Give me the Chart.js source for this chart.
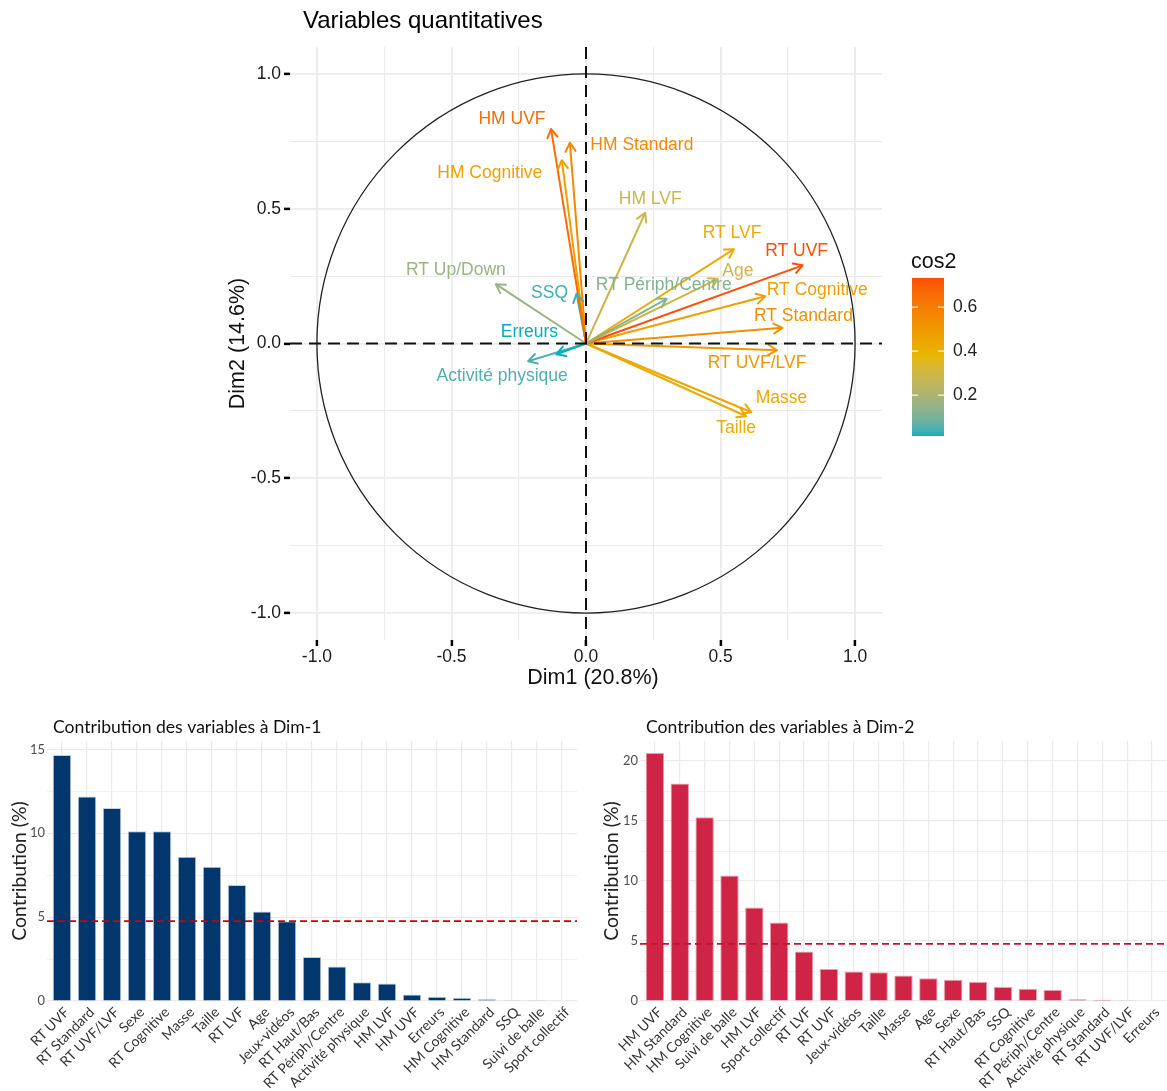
<!DOCTYPE html>
<html>
<head>
<meta charset="utf-8">
<script src="https://cdn.jsdelivr.net/npm/chart.js@4.4.0/dist/chart.umd.min.js"></script>
<style>
  html, body { margin: 0; padding: 0; background: #fff; }
  #wrap { position: relative; width: 1167px; height: 1091px; overflow: hidden; }
  .box { position: absolute; }
</style>
</head>
<body>
<div id="wrap">
  <div class="box" style="left:0;top:0;width:1167px;height:700px"><canvas id="pca"></canvas></div>
  <div class="box" style="left:0;top:705px;width:583px;height:386px"><canvas id="dim1"></canvas></div>
  <div class="box" style="left:583px;top:705px;width:584px;height:386px"><canvas id="dim2"></canvas></div>
</div>
<script>
// variables on the correlation circle (Dim1, Dim2 coordinates)
const pcaVars = ["HM UVF", "HM Standard", "HM Cognitive", "HM LVF", "RT Up/Down", "SSQ", "Erreurs",
  "Activité physique", "RT Périph/Centre", "Age", "RT LVF", "RT UVF", "RT Cognitive", "RT Standard",
  "RT UVF/LVF", "Masse", "Taille"];
const dim1Coord = [-0.13, -0.06, -0.09, 0.22, -0.335, -0.035, -0.11, -0.215, 0.30, 0.49, 0.55, 0.805, 0.666, 0.73, 0.71, 0.615, 0.595];
const dim2Coord = [0.796, 0.745, 0.68, 0.485, 0.22, 0.185, -0.04, -0.066, 0.166, 0.24, 0.35, 0.29, 0.175, 0.058, -0.025, -0.255, -0.27];

// contributions to Dim-1
const contrib1Labels = ["RT UVF", "RT Standard", "RT UVF/LVF", "Sexe", "RT Cognitive", "Masse", "Taille", "RT LVF",
  "Age", "Jeux-vidéos", "RT Haut/Bas", "RT Périph/Centre", "Activité physique", "HM LVF", "HM UVF", "Erreurs",
  "HM Cognitive", "HM Standard", "SSQ", "Suivi de balle", "Sport collectif"];
const contrib1Values = [14.67, 12.19, 11.5, 10.12, 10.12, 8.6, 8.01, 6.91, 5.33, 4.76, 2.62, 2.05, 1.12, 1.04,
  0.39, 0.26, 0.2, 0.1, 0.04, 0.04, 0.01];

// contributions to Dim-2
const contrib2Labels = ["HM UVF", "HM Standard", "HM Cognitive", "Suivi de balle", "HM LVF", "Sport collectif",
  "RT LVF", "RT UVF", "Jeux-vidéos", "Taille", "Masse", "Age", "Sexe", "RT Haut/Bas", "SSQ", "RT Cognitive",
  "RT Périph/Centre", "Activité physique", "RT Standard", "RT UVF/LVF", "Erreurs"];
const contrib2Values = [20.67, 18.13, 15.32, 10.45, 7.8, 6.55, 4.12, 2.67, 2.45, 2.4, 2.12, 1.89, 1.78, 1.59,
  1.17, 1.03, 0.92, 0.14, 0.11, 0.06, 0.05];

const expectedContrib = 4.76; // 100 / 21 variables

const SANS = '"Liberation Sans", Arial, sans-serif';
const LATO = 'Lato, "Open Sans", sans-serif';

// cos2 colour gradient (interpolated in Lab like ggplot)
const GRAD_COLS = ["#00AFBB", "#E7B800", "#FC4E07"];
function hexToRgb(h) { return [1, 3, 5].map(i => parseInt(h.substr(i, 2), 16)); }
function toLab(rgb) {
  const [r, g, b] = rgb.map(c => { c /= 255; return c <= 0.04045 ? c / 12.92 : Math.pow((c + 0.055) / 1.055, 2.4); });
  const X = (0.4124564 * r + 0.3575761 * g + 0.1804375 * b) / 0.95047;
  const Y = 0.2126729 * r + 0.7151522 * g + 0.0721750 * b;
  const Z = (0.0193339 * r + 0.1191920 * g + 0.9503041 * b) / 1.08883;
  const f = t => t > 0.008856 ? Math.cbrt(t) : 7.787 * t + 16 / 116;
  const fx = f(X), fy = f(Y), fz = f(Z);
  return [116 * fy - 16, 500 * (fx - fy), 200 * (fy - fz)];
}
function fromLab([L, a, b]) {
  const fy = (L + 16) / 116, fx = fy + a / 500, fz = fy - b / 200;
  const inv = t => { const t3 = t * t * t; return t3 > 0.008856 ? t3 : (t - 16 / 116) / 7.787; };
  const X = inv(fx) * 0.95047, Y = inv(fy), Z = inv(fz) * 1.08883;
  const r = 3.2404542 * X - 1.5371385 * Y - 0.4985314 * Z;
  const g = -0.9692660 * X + 1.8760108 * Y + 0.0415560 * Z;
  const bb = 0.0556434 * X - 0.2040259 * Y + 1.0572252 * Z;
  const enc = c => { c = c <= 0.0031308 ? 12.92 * c : 1.055 * Math.pow(c, 1 / 2.4) - 0.055; return Math.round(Math.min(1, Math.max(0, c)) * 255); };
  return `rgb(${enc(r)},${enc(g)},${enc(bb)})`;
}
const GRAD_LAB = GRAD_COLS.map(h => toLab(hexToRgb(h)));
function gradColor(t) {
  t = Math.max(0, Math.min(1, t));
  const seg = t < 0.5 ? 0 : 1;
  const u = seg === 0 ? t * 2 : (t - 0.5) * 2;
  const a = GRAD_LAB[seg], b = GRAD_LAB[seg + 1];
  return fromLab(a.map((v, i) => v + (b[i] - v) * u));
}

const cos2 = dim1Coord.map((x, i) => x * x + dim2Coord[i] * dim2Coord[i]);
const cMin = Math.min(...cos2), cMax = Math.max(...cos2);
const arrowColors = cos2.map(v => gradColor((v - cMin) / (cMax - cMin)));

// label nudges in px relative to arrow tips (repel-like placement)
const LABEL_NUDGE = [[-39, -10], [72, 2], [-72, 13], [5, -14], [-40, -14], [-27, 0], [-27, -22], [-26, 15],
  [-3, -14], [20, -8], [-2, -16], [-6, -14], [52, -6], [21, -12], [-20, 13], [30, -14], [-10, 12]];

const isHalf = v => Math.abs(v * 2 - Math.round(v * 2)) < 1e-6;

const pcaDecor = {
  id: "pcaDecor",
  beforeDatasetsDraw(chart) {
    const { ctx, scales: { x, y } } = chart;
    const cx = x.getPixelForValue(0), cy = y.getPixelForValue(0);
    const rx = x.getPixelForValue(1) - cx, ry = cy - y.getPixelForValue(1);
    ctx.save();
    ctx.beginPath();
    ctx.ellipse(cx, cy, rx, ry, 0, 0, Math.PI * 2);
    ctx.strokeStyle = "#222";
    ctx.lineWidth = 1.3;
    ctx.stroke();
    ctx.restore();
  },
  afterDatasetsDraw(chart) {
    const { ctx, chartArea: a, scales: { x, y } } = chart;
    ctx.save();
    // open arrow heads
    chart.data.datasets.forEach((ds, i) => {
      const [p0, p1] = chart.getDatasetMeta(i).data;
      const ang = Math.atan2(p1.y - p0.y, p1.x - p0.x);
      const L = 10, w = Math.PI / 6;
      ctx.strokeStyle = ds.borderColor;
      ctx.lineWidth = 2;
      ctx.lineCap = "round";
      ctx.lineJoin = "round";
      ctx.beginPath();
      ctx.moveTo(p1.x - L * Math.cos(ang - w), p1.y - L * Math.sin(ang - w));
      ctx.lineTo(p1.x, p1.y);
      ctx.lineTo(p1.x - L * Math.cos(ang + w), p1.y - L * Math.sin(ang + w));
      ctx.stroke();
    });
    // labels
    ctx.font = `17.5px ${SANS}`;
    ctx.textAlign = "center";
    ctx.textBaseline = "middle";
    chart.data.datasets.forEach((ds, i) => {
      const p1 = chart.getDatasetMeta(i).data[1];
      ctx.fillStyle = ds.borderColor;
      ctx.fillText(ds.label, p1.x + LABEL_NUDGE[i][0], p1.y + LABEL_NUDGE[i][1]);
    });
    // dashed zero lines
    const zx = x.getPixelForValue(0), zy = y.getPixelForValue(0);
    ctx.strokeStyle = "#111";
    ctx.lineWidth = 2;
    ctx.lineCap = "butt";
    ctx.setLineDash([12, 7]);
    ctx.beginPath();
    ctx.moveTo(a.left, zy); ctx.lineTo(a.right, zy);
    ctx.moveTo(zx, a.top); ctx.lineTo(zx, a.bottom);
    ctx.stroke();
    ctx.restore();
  },
  afterDraw(chart) {
    const { ctx } = chart;
    ctx.save();
    ctx.fillStyle = "#000";
    ctx.textAlign = "left";
    ctx.textBaseline = "middle";
    ctx.font = `24px ${SANS}`;
    ctx.fillText("Variables quantitatives", 303, 21);
    // axis title drawn here to sit where ggplot centred it
    ctx.textAlign = "center";
    ctx.font = `21.5px ${SANS}`;
    ctx.fillStyle = "#111";
    ctx.fillText("Dim1 (20.8%)", 593, 678);

    // cos2 colour bar
    const bx = 912, bw = 32, top = 278, bot = 436;
    ctx.textAlign = "left";
    ctx.fillText("cos2", 911, 262);
    for (let py = top; py < bot; py++) {
      ctx.fillStyle = gradColor(1 - (py + 0.5 - top) / (bot - top));
      ctx.fillRect(bx, py, bw, 1);
    }
    ctx.font = `17.5px ${SANS}`;
    [0.2, 0.4, 0.6].forEach(v => {
      const py = bot - (v - cMin) / (cMax - cMin) * (bot - top);
      ctx.strokeStyle = "rgba(255,255,255,0.9)";
      ctx.lineWidth = 1.2;
      ctx.beginPath();
      ctx.moveTo(bx, py); ctx.lineTo(bx + 6, py);
      ctx.moveTo(bx + bw - 6, py); ctx.lineTo(bx + bw, py);
      ctx.stroke();
      ctx.fillStyle = "#222";
      ctx.fillText(v.toFixed(1), 953, py);
    });
    ctx.restore();
  }
};

const axisTick = (c) => (c.tick && isHalf(c.tick.value)) ? "#000" : "rgba(0,0,0,0)";
const gridW = (c) => (c.tick && isHalf(c.tick.value)) ? 1.8 : 1.1;

new Chart(document.getElementById("pca"), {
  type: "scatter",
  data: {
    datasets: pcaVars.map((name, i) => ({
      label: name,
      data: [{ x: 0, y: 0 }, { x: dim1Coord[i], y: dim2Coord[i] }],
      showLine: true,
      borderColor: arrowColors[i],
      borderWidth: 2,
      pointRadius: 0,
      pointHoverRadius: 0
    }))
  },
  options: {
    responsive: true,
    maintainAspectRatio: false,
    animation: false,
    events: [],
    layout: { padding: { left: 220, right: 285, top: 47, bottom: 0 } },
    plugins: { legend: { display: false }, tooltip: { enabled: false } },
    scales: {
      x: {
        type: "linear", min: -1.1, max: 1.1,
        ticks: {
          stepSize: 0.25, includeBounds: false, autoSkip: false, maxRotation: 0, padding: 1,
          color: "#1a1a1a", font: { family: SANS, size: 17.5 },
          callback: v => isHalf(v) ? v.toFixed(1) : ""
        },
        grid: { color: "#EBEBEB", lineWidth: gridW, tickLength: 6, tickColor: axisTick, tickWidth: 2.5 },
        border: { display: false },
        afterFit: s => { s.height = 60; }
      },
      y: {
        type: "linear", min: -1.1, max: 1.1,
        ticks: {
          stepSize: 0.25, includeBounds: false, autoSkip: false, padding: 3,
          color: "#1a1a1a", font: { family: SANS, size: 17.5 },
          callback: v => isHalf(v) ? v.toFixed(1) : ""
        },
        grid: { color: "#EBEBEB", lineWidth: gridW, tickLength: 6, tickColor: axisTick, tickWidth: 2.5 },
        border: { display: false },
        title: { display: true, text: "Dim2 (14.6%)", color: "#111", font: { family: SANS, size: 21.5 }, padding: { top: 5, bottom: 0 } },
        afterFit: s => { s.width = 70; }
      }
    }
  },
  plugins: [pcaDecor]
});

// contribution bar charts
const contribDecor = {
  id: "contribDecor",
  afterDatasetsDraw(chart, args, o) {
    const { ctx, chartArea: a, scales: { y } } = chart;
    const py = y.getPixelForValue(o.ref);
    ctx.save();
    ctx.strokeStyle = o.lineColor;
    ctx.lineWidth = 1.6;
    ctx.setLineDash([7, 4]);
    ctx.beginPath();
    ctx.moveTo(a.left, py); ctx.lineTo(a.right, py);
    ctx.stroke();
    ctx.restore();
  },
  afterDraw(chart, args, o) {
    const { ctx, chartArea: a } = chart;
    ctx.save();
    ctx.fillStyle = "#111";
    ctx.font = `17.6px ${LATO}`;
    ctx.textAlign = "left";
    ctx.textBaseline = "middle";
    ctx.fillText(o.title, a.left + 6, 22);
    ctx.restore();
  }
};

function contribChart(id, labels, values, opt) {
  return new Chart(document.getElementById(id), {
    type: "bar",
    data: {
      datasets: [{
        data: values.map((v, i) => ({ x: i, y: v })),
        backgroundColor: opt.fill,
        borderColor: opt.edge,
        borderWidth: 1,
        barPercentage: 0.74,
        categoryPercentage: 1
      }]
    },
    options: {
      responsive: true,
      maintainAspectRatio: false,
      animation: false,
      events: [],
      layout: { padding: { left: 0, right: opt.padRight, top: 36, bottom: 0 } },
      plugins: {
        legend: { display: false },
        tooltip: { enabled: false },
        contribDecor: { title: opt.title, lineColor: opt.line, ref: expectedContrib }
      },
      scales: {
        x: {
          type: "linear", min: -0.6, max: labels.length - 0.4, offset: false,
          ticks: {
            stepSize: 1, includeBounds: false, autoSkip: false, minRotation: 45, maxRotation: 45, padding: 3,
            labelOffset: 5,
            color: "#333", font: { family: LATO, size: 14 },
            callback: v => labels[v] ?? ""
          },
          grid: { color: "#EBEBEB", lineWidth: 1.2, drawTicks: false, offset: false },
          border: { display: false },
          afterFit: s => { s.height = 90; }
        },
        y: {
          min: 0, max: opt.yMax,
          ticks: {
            stepSize: 2.5, includeBounds: false, padding: 2,
            color: "#4D4D4D", font: { family: LATO, size: 13 },
            callback: v => v % 5 === 0 ? String(v) : ""
          },
          grid: { color: "#EBEBEB", lineWidth: c => (c.tick && c.tick.value % 5 === 0) ? 1.2 : 0.7, drawTicks: false },
          border: { display: false },
          title: { display: true, text: "Contribution (%)", color: "#222", font: { family: LATO, size: 19.4 }, padding: { top: opt.titlePad, bottom: 0 } },
          afterFit: s => { s.width = opt.yWidth; }
        }
      }
    },
    plugins: [contribDecor]
  });
}

contribChart("dim1", contrib1Labels, contrib1Values, {
  title: "Contribution des variables à Dim-1",
  fill: "#02376D", edge: "#C3CEDC", line: "#D00000",
  yMax: 15.5, yWidth: 47, padRight: 6, titlePad: 8
});
contribChart("dim2", contrib2Labels, contrib2Values, {
  title: "Contribution des variables à Dim-2",
  fill: "#CF2446", edge: "#EC9AAE", line: "#C41230",
  yMax: 21.67, yWidth: 57, padRight: 0, titlePad: 17.5
});
</script>
</body>
</html>
